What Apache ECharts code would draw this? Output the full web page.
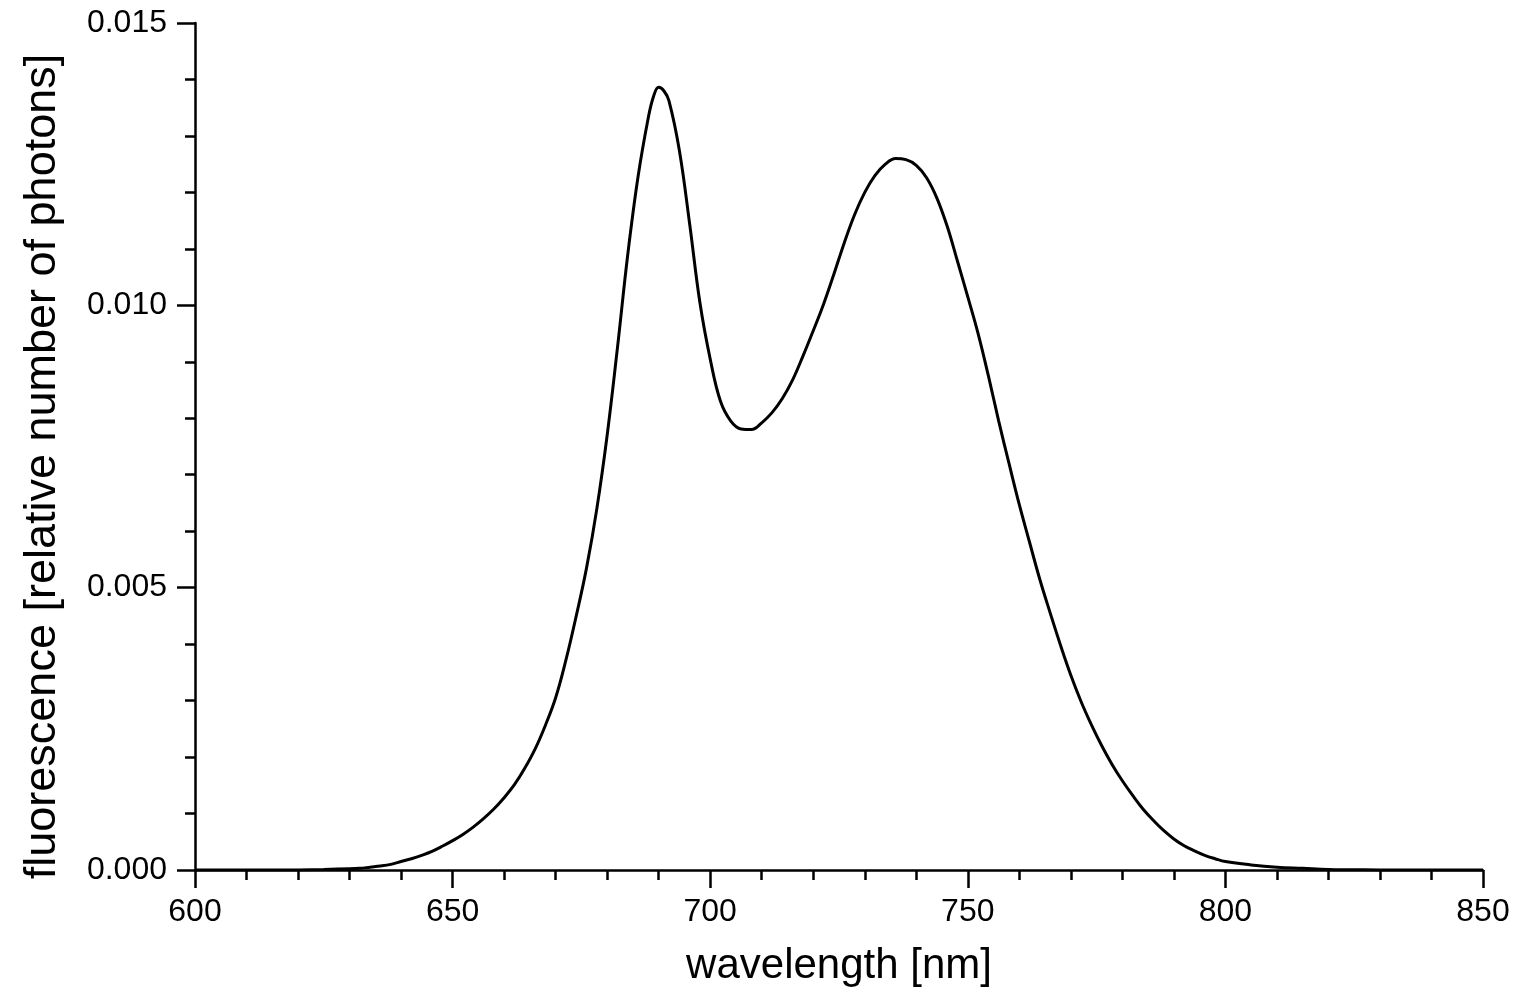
<!DOCTYPE html>
<html lang="en">
<head>
    <meta charset="UTF-8">
    <title>Fluorescence spectrum</title>
    <script src="https://cdn.jsdelivr.net/npm/echarts@6/dist/echarts.min.js"></script>
</head>
<body style="margin: 0; background: #fff">
<div id="chart" style="width: 1516px; height: 1005px"></div>
<script>
    // wavelength [nm] and fluorescence values
    const wavelength = [600, 610, 620, 625, 630, 632, 634, 636, 638, 640, 642, 644, 646, 648,
        650, 652, 654, 656, 658, 660, 662, 664, 666, 668, 670, 672, 674, 676, 678,
        680, 682, 684, 686, 688, 689, 690, 691, 692, 694, 696, 698,
        700, 702, 704, 706, 708, 710, 712, 714, 716, 718, 720, 722, 724, 726, 728,
        730, 732, 734, 736, 738, 740, 742, 744, 746, 748, 750, 752, 754, 756, 758,
        760, 762, 764, 766, 768, 770, 772, 774, 776, 778, 780, 782, 784, 786, 788,
        790, 792, 794, 796, 798, 800, 805, 810, 815, 820, 825, 830, 850];
    const fluorescence = [0, 0, 0.000002, 0.000008, 0.00002, 0.00003, 0.00005, 0.00007, 0.00010, 0.00015,
        0.00020, 0.00026, 0.00033, 0.00042,
        0.00052, 0.00063, 0.00076, 0.00091, 0.00108, 0.00128, 0.00151, 0.00180, 0.00214, 0.00256,
        0.00305, 0.00372, 0.00450, 0.00535, 0.00640,
        0.00770, 0.00925, 0.01090, 0.01228, 0.01333, 0.01370, 0.01386, 0.01380, 0.01362, 0.01275,
        0.01145, 0.01005,
        0.00905, 0.00830, 0.00795, 0.00781, 0.00780, 0.00792, 0.00810, 0.00835, 0.00868, 0.00910,
        0.00955, 0.01002, 0.01055, 0.01110, 0.01160,
        0.01200, 0.01230, 0.01250, 0.01260, 0.01258, 0.01248, 0.01226, 0.01190, 0.01140, 0.01078,
        0.01015, 0.00950, 0.00875, 0.00795, 0.00720,
        0.00647, 0.00580, 0.00514, 0.00455, 0.00398, 0.00345, 0.00298, 0.00257, 0.00220, 0.00187,
        0.00158, 0.00132, 0.00108, 0.00088, 0.00070,
        0.00055, 0.00043, 0.00034, 0.00026, 0.00020, 0.00015, 0.00009, 0.00005, 0.00003, 0.00001,
        0.000005, 0, 0];

    const seriesData = wavelength.map((w, i) => [w, fluorescence[i]]);

    const chart = echarts.init(document.getElementById('chart'));
    const axisFont = 'Liberation Sans, Arial, Helvetica, sans-serif';
    chart.setOption({
        animation: false,
        grid: {left: 195, right: 33, top: 23, bottom: 135},
        xAxis: {
            type: 'value',
            min: 600,
            max: 850,
            interval: 50,
            name: 'wavelength [nm]',
            nameLocation: 'middle',
            nameGap: 75,
            nameTextStyle: {fontFamily: axisFont, fontSize: 42, color: '#000'},
            axisLine: {lineStyle: {color: '#000', width: 2.5}},
            axisTick: {length: 18, lineStyle: {color: '#000', width: 2.5}},
            minorTick: {show: true, splitNumber: 5, length: 10, lineStyle: {color: '#000', width: 2.5}},
            axisLabel: {fontFamily: axisFont, fontSize: 32, color: '#000', margin: 26},
            splitLine: {show: false}
        },
        yAxis: {
            type: 'value',
            min: 0,
            max: 0.015,
            interval: 0.005,
            name: 'fluorescence [relative number of photons]',
            nameLocation: 'middle',
            nameGap: 130,
            nameTextStyle: {fontFamily: axisFont, fontSize: 45, color: '#000', padding: [0, 40, 0, 0]},
            axisLine: {show: true, lineStyle: {color: '#000', width: 2.5}},
            axisTick: {show: true, length: 18, lineStyle: {color: '#000', width: 2.5}},
            minorTick: {show: true, splitNumber: 5, length: 10, lineStyle: {color: '#000', width: 2.5}},
            axisLabel: {
                fontFamily: axisFont, fontSize: 32, color: '#000', margin: 28,
                formatter: v => v.toFixed(3)
            },
            splitLine: {show: false}
        },
        series: [{
            type: 'line',
            data: seriesData,
            smooth: 0.4,
            showSymbol: false,
            lineStyle: {color: '#000', width: 3}
        }]
    });
</script>
</body>
</html>
